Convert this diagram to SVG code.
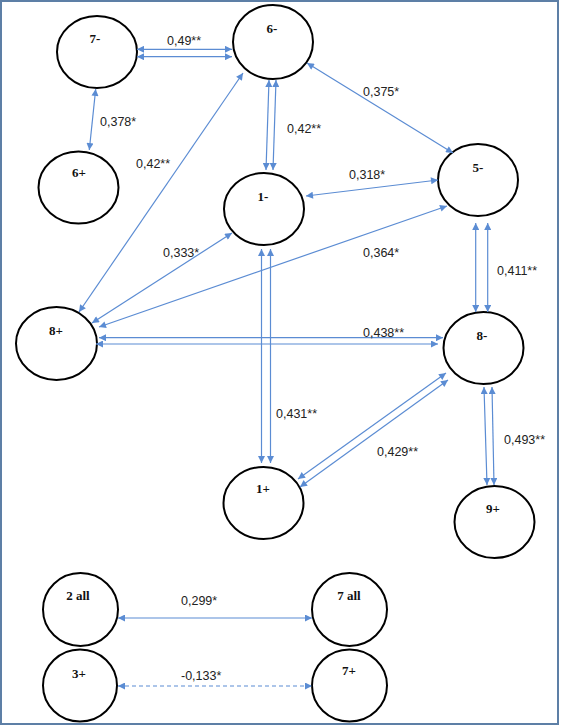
<svg xmlns="http://www.w3.org/2000/svg" width="561" height="727" viewBox="0 0 561 727">
<style>
.frame{fill:#ffffff;stroke:#5d7fa6;stroke-width:2}
.node ellipse{fill:#ffffff;stroke:#000000;stroke-width:2}
.node text{font-family:"Liberation Serif","Times New Roman",serif;font-weight:bold;font-size:13px;fill:#111;text-anchor:middle}
.edge{stroke:#5b8cd3;stroke-width:1.2;fill:none;marker-start:url(#ah);marker-end:url(#ah)}
.dash{stroke-dasharray:4 3}
.lbl{font-family:"Liberation Sans",Arial,sans-serif;font-size:12.5px;fill:#222}
</style>
<defs>
<marker id="ah" viewBox="0 0 10 10" refX="10" refY="5" markerWidth="9" markerHeight="7" markerUnits="userSpaceOnUse" orient="auto-start-reverse">
<path d="M0,0 L10,5 L0,10 z" fill="#5b8cd3"/>
</marker>
</defs>
<rect class="frame" x="1" y="1" width="557" height="723"/>
<g id="n7m" class="node"><ellipse cx="97" cy="52" rx="40" ry="36"/><text x="95" y="43">7-</text></g>
<g id="n6m" class="node"><ellipse cx="273" cy="42" rx="40" ry="37"/><text x="272" y="33">6-</text></g>
<g id="n6p" class="node"><ellipse cx="78.5" cy="187.5" rx="40" ry="36"/><text x="79" y="177">6+</text></g>
<g id="n1m" class="node"><ellipse cx="264" cy="209" rx="40" ry="36"/><text x="263" y="201">1-</text></g>
<g id="n5m" class="node"><ellipse cx="478" cy="180" rx="40" ry="36"/><text x="478" y="172">5-</text></g>
<g id="n8p" class="node"><ellipse cx="56.5" cy="343.5" rx="40.5" ry="36.5"/><text x="56" y="335">8+</text></g>
<g id="n8m" class="node"><ellipse cx="483.5" cy="348" rx="40" ry="36"/><text x="482" y="340">8-</text></g>
<g id="n1p" class="node"><ellipse cx="263.5" cy="503" rx="40" ry="36"/><text x="263" y="493">1+</text></g>
<g id="n9p" class="node"><ellipse cx="494.5" cy="522" rx="40" ry="36"/><text x="493" y="513">9+</text></g>
<g id="n2all" class="node"><ellipse cx="80.5" cy="609.5" rx="37.5" ry="36.5"/><text x="78" y="600">2 all</text></g>
<g id="n7all" class="node"><ellipse cx="349.5" cy="609.5" rx="37.5" ry="36.5"/><text x="349" y="600">7 all</text></g>
<g id="n3p" class="node"><ellipse cx="80" cy="685.5" rx="37" ry="36"/><text x="79" y="678">3+</text></g>
<g id="n7p" class="node"><ellipse cx="349.5" cy="685.5" rx="37.5" ry="36"/><text x="349" y="675">7+</text></g>
<g id="connectors">
<line class="edge" x1="137" y1="49.3" x2="232" y2="49.3"/>
<line class="edge" x1="137" y1="56.7" x2="232" y2="56.7"/>
<line class="edge" x1="95.7" y1="89" x2="89.3" y2="150"/>
<line class="edge" x1="269" y1="80" x2="266" y2="170"/>
<line class="edge" x1="276" y1="80" x2="273" y2="170"/>
<line class="edge" x1="243" y1="73" x2="79" y2="312"/>
<line class="edge" x1="307" y1="63" x2="453" y2="153"/>
<line class="edge" x1="306" y1="196" x2="438" y2="180"/>
<line class="edge" x1="232" y1="233" x2="92" y2="323"/>
<line class="edge" x1="447" y1="206" x2="99" y2="327"/>
<line class="edge" x1="99" y1="337.7" x2="443" y2="337.7"/>
<line class="edge" x1="96" y1="344" x2="438" y2="344"/>
<line class="edge" x1="261.5" y1="249" x2="261.5" y2="463"/>
<line class="edge" x1="270.5" y1="249" x2="270.5" y2="463"/>
<line class="edge" x1="475.7" y1="223" x2="475.7" y2="312"/>
<line class="edge" x1="487.7" y1="223" x2="487.7" y2="312"/>
<line class="edge" x1="446" y1="373" x2="298" y2="479"/>
<line class="edge" x1="448" y1="380" x2="300" y2="487"/>
<line class="edge" x1="484" y1="387" x2="487" y2="485"/>
<line class="edge" x1="492" y1="387" x2="494" y2="485"/>
<line class="edge" x1="118" y1="618" x2="312" y2="618"/>
<line class="edge dash" x1="118" y1="686" x2="312" y2="686"/>
</g>
<g id="labels">
<text class="lbl" x="167" y="45">0,49**</text>
<text class="lbl" x="100" y="126">0,378*</text>
<text class="lbl" x="136" y="168">0,42**</text>
<text class="lbl" x="287" y="133">0,42**</text>
<text class="lbl" x="363" y="96">0,375*</text>
<text class="lbl" x="349" y="179">0,318*</text>
<text class="lbl" x="163" y="257">0,333*</text>
<text class="lbl" x="363" y="257">0,364*</text>
<text class="lbl" x="497" y="275">0,411**</text>
<text class="lbl" x="363" y="337">0,438**</text>
<text class="lbl" x="276" y="418">0,431**</text>
<text class="lbl" x="377" y="456">0,429**</text>
<text class="lbl" x="504" y="444">0,493**</text>
<text class="lbl" x="181" y="605">0,299*</text>
<text class="lbl" x="181" y="680">-0,133*</text>
</g>
</svg>
